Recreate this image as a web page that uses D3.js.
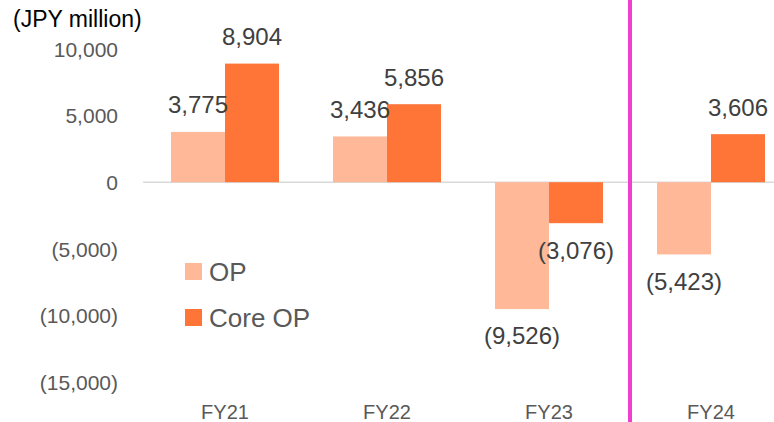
<!DOCTYPE html>
<html>
<head>
<meta charset="utf-8">
<script src="https://cdn.jsdelivr.net/npm/d3@7"></script>
<style>
  html, body { margin: 0; padding: 0; background: #fff; }
  svg text { font-family: "Liberation Sans", Arial, sans-serif; }
</style>
</head>
<body>
<svg id="chart" width="774" height="422"></svg>
<script>
// Operating profit by fiscal year (JPY million)
const categories = ["FY21", "FY22", "FY23", "FY24"];
const seriesNames = ["OP", "Core OP"];
const opValues = [3775, 3436, -9526, -5423];
const coreOpValues = [8904, 5856, -3076, 3606];
const yTicks = [10000, 5000, 0, -5000, -10000, -15000];
const unitLabel = "(JPY million)";

const colors = { "OP": "#FFB999", "Core OP": "#FF7538" };

const svg = d3.select("#chart");
const W = 774, H = 422;

const x = d3.scaleBand()
  .domain(categories)
  .range([144, 792])
  .paddingInner(0)
  .paddingOuter(0);

const barW = 54;
const sub = d3.scaleBand()
  .domain(seriesNames)
  .range([x.bandwidth() / 2 - barW, x.bandwidth() / 2 + barW]);

const y = d3.scaleLinear()
  .domain([-15000, 10000])
  .range([382, 49]);

const fmt = v => {
  const s = d3.format(",")(Math.abs(v));
  return v < 0 ? "(" + s + ")" : s;
};

// Y axis tick labels (no axis line)
const yAxis = d3.axisLeft(y).tickValues(yTicks).tickSize(0).tickFormat(fmt);
const yG = svg.append("g").attr("transform", "translate(121,0)").call(yAxis);
yG.select(".domain").remove();
yG.selectAll("text")
  .attr("fill", "#595959")
  .style("font-size", "21px")
  .attr("dy", "0.35em");

// Unit label
svg.append("text")
  .attr("x", 13).attr("y", 19)
  .attr("dy", "0.35em")
  .attr("fill", "#000")
  .style("font-size", "23px")
  .text(unitLabel);

// Zero baseline
svg.append("line")
  .attr("x1", 143).attr("x2", W)
  .attr("y1", y(0)).attr("y2", y(0))
  .attr("stroke", "#d9d9d9").attr("stroke-width", 1.5);

// Bars
const rows = categories.map((c, i) => ({
  cat: c,
  vals: [{ s: "OP", v: opValues[i] }, { s: "Core OP", v: coreOpValues[i] }]
}));

const groups = svg.append("g").selectAll("g")
  .data(rows).join("g")
  .attr("transform", d => `translate(${x(d.cat)},0)`);

groups.selectAll("rect")
  .data(d => d.vals).join("rect")
  .attr("x", d => sub(d.s))
  .attr("width", sub.bandwidth())
  .attr("y", d => y(Math.max(0, d.v)))
  .attr("height", d => Math.abs(y(d.v) - y(0)))
  .attr("fill", d => colors[d.s]);

// Data labels
groups.selectAll("text.val")
  .data(d => d.vals).join("text")
  .attr("class", "val")
  .attr("x", d => sub(d.s) + sub.bandwidth() / 2)
  .attr("y", d => d.v >= 0 ? y(d.v) - 27 : y(d.v) + 27)
  .attr("dy", "0.35em")
  .attr("text-anchor", "middle")
  .attr("fill", "#404040")
  .style("font-size", "24px")
  .text(d => fmt(d.v));

// Category labels
const xAxis = d3.axisBottom(x).tickSize(0);
const xG = svg.append("g").attr("transform", "translate(0,400)").call(xAxis);
xG.select(".domain").remove();
xG.selectAll("text")
  .attr("fill", "#595959")
  .style("font-size", "20px")
  .attr("y", 0)
  .attr("dy", "0.35em")
  .attr("transform", "translate(0,12)");

// Divider between actuals and FY24
svg.append("line")
  .attr("x1", x("FY24")).attr("x2", x("FY24"))
  .attr("y1", 0).attr("y2", H)
  .attr("stroke", "#F03FD0").attr("stroke-width", 4);

// Legend
const legend = svg.append("g").attr("transform", "translate(185,263)");
seriesNames.forEach((s, i) => {
  const g = legend.append("g").attr("transform", `translate(0,${i * 46})`);
  g.append("rect").attr("width", 17).attr("height", 17).attr("fill", colors[s]);
  g.append("text")
    .attr("x", 24).attr("y", 9)
    .attr("dy", "0.35em")
    .attr("fill", "#595959")
    .style("font-size", "26px")
    .text(s);
});
</script>
</body>
</html>
